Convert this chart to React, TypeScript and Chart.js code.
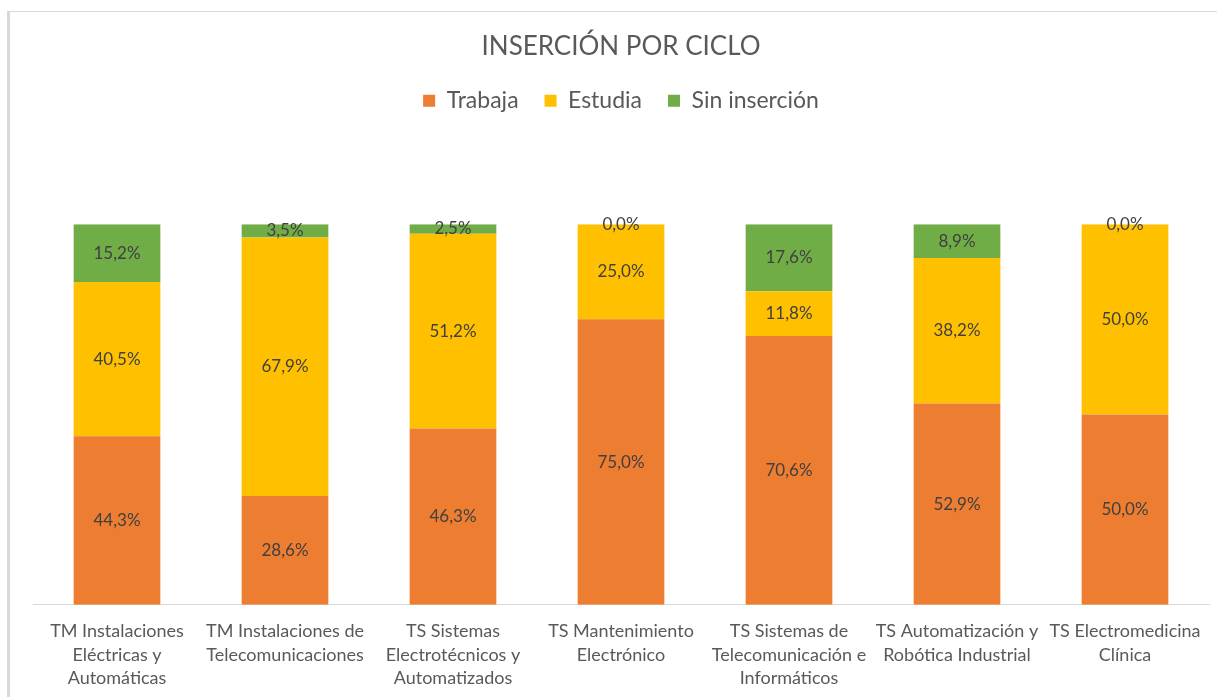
import React, { useEffect, useRef } from "react";
import { Chart, registerables } from "chart.js";

Chart.register(...registerables);

const categories: string[][] = [
  ["TM Instalaciones", "Eléctricas y", "Automáticas"],
  ["TM Instalaciones de", "Telecomunicaciones"],
  ["TS Sistemas", "Electrotécnicos y", "Automatizados"],
  ["TS Mantenimiento", "Electrónico"],
  ["TS Sistemas de", "Telecomunicación e", "Informáticos"],
  ["TS Automatización y", "Robótica Industrial"],
  ["TS Electromedicina", "Clínica"],
];

const trabaja = [44.3, 28.6, 46.3, 75.0, 70.6, 52.9, 50.0];
const estudia = [40.5, 67.9, 51.2, 25.0, 11.8, 38.2, 50.0];
const sinInsercion = [15.2, 3.5, 2.5, 0.0, 17.6, 8.9, 0.0];

const FONT = "Lato, 'Open Sans', sans-serif";

const dataLabelPlugin = {
  id: "dataLabels",
  afterDatasetsDraw(chart: any) {
    const ctx = chart.ctx;
    ctx.save();
    ctx.font = `17px ${FONT}`;
    ctx.fillStyle = "#404040";
    ctx.textAlign = "center";
    ctx.textBaseline = "middle";
    chart.data.datasets.forEach((ds: any, di: number) => {
      const meta = chart.getDatasetMeta(di);
      meta.data.forEach((el: any, i: number) => {
        const v = ds.data[i] as number;
        const y = (el.y + el.base) / 2;
        ctx.fillText(v.toFixed(1).replace(".", ",") + "%", el.x, y);
      });
    });
    ctx.restore();
  },
};

const legendSpacePlugin = {
  id: "legendSpace",
  beforeLayout(chart: any) {
    const lg = chart.legend;
    if (lg && !lg._spacePatched) {
      const orig = lg.fit;
      lg.fit = function () {
        orig.call(this);
        this.height += 102;
      };
      lg._spacePatched = true;
    }
  },
};

export default function App() {
  const ref = useRef<HTMLCanvasElement | null>(null);
  useEffect(() => {
    if (!ref.current) return;
    const chart = new Chart(ref.current, {
      type: "bar",
      data: {
        labels: categories,
        datasets: [
          { label: "Trabaja", data: trabaja, backgroundColor: "#ED7D31", barPercentage: 0.516, categoryPercentage: 1 },
          { label: "Estudia", data: estudia, backgroundColor: "#FFC000", barPercentage: 0.516, categoryPercentage: 1 },
          { label: "Sin inserción", data: sinInsercion, backgroundColor: "#70AD47", barPercentage: 0.516, categoryPercentage: 1 },
        ],
      },
      options: {
        responsive: false,
        animation: false,
        layout: { padding: { left: 33, right: 8, top: 0, bottom: -8 } },
        plugins: {
          title: {
            display: true,
            text: "INSERCIÓN POR CICLO",
            color: "#595959",
            font: { family: FONT, size: 26, weight: "normal" },
            padding: { top: 31, bottom: 1 },
          },
          legend: {
            display: true,
            position: "top",
            labels: {
              color: "#595959",
              font: { family: FONT, size: 23 },
              boxWidth: 12,
              boxHeight: 12,
              padding: 26,
            },
          },
          tooltip: { enabled: false },
        },
        scales: {
          x: {
            stacked: true,
            offset: true,
            grid: { display: false, drawTicks: false },
            border: { display: true, color: "#d9d9d9", width: 1 },
            ticks: {
              color: "#595959",
              font: { family: FONT, size: 18, lineHeight: 1.3 },
              padding: 15,
              maxRotation: 0,
              autoSkip: false,
            },
          },
          y: {
            stacked: true,
            display: false,
            min: 0,
            max: 100,
          },
        },
      },
      plugins: [dataLabelPlugin, legendSpacePlugin],
    });
    return () => chart.destroy();
  }, []);

  return (
    <div style={{ position: "absolute", left: 0, top: 0, width: 1217, height: 697, overflow: "hidden", background: "#fff" }}>
      <div
        style={{
          position: "absolute",
          left: 7,
          top: 11,
          width: 1400,
          height: 900,
          borderTop: "1px solid #d9d9d9",
          borderLeft: "3px solid #d9d9d9",
        }}
      />
      <canvas ref={ref} width={1217} height={697} style={{ position: "absolute", left: 0, top: 0 }} />
    </div>
  );
}
